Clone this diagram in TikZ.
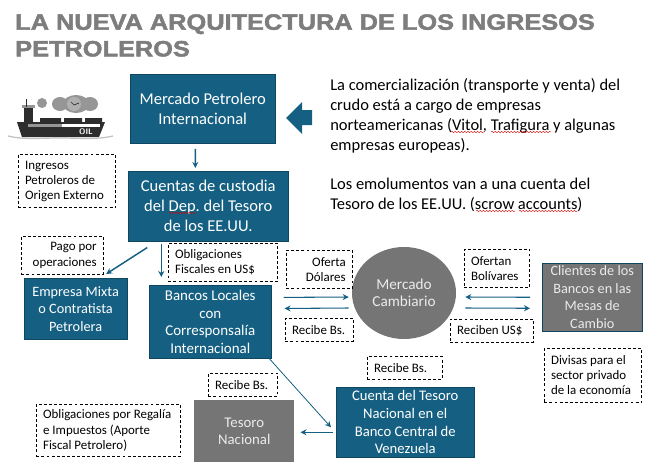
\documentclass[tikz,border=0pt]{standalone}
\usepackage{fontspec}
\setmainfont{Carlito}
\newfontfamily\titlefont[FakeStretch=1.145,FakeBold=2.2]{Liberation Sans Bold}
\usepackage{xcolor}
\usetikzlibrary{arrows.meta,decorations.pathmorphing,shapes.geometric}
\frenchspacing
\definecolor{tileblue}{RGB}{21,96,130}
\definecolor{tileedge}{RGB}{15,71,97}
\definecolor{tilegray}{RGB}{117,117,117}
\definecolor{titlegray}{RGB}{125,125,125}
\definecolor{shipdark}{RGB}{45,45,45}
\definecolor{smokegray}{RGB}{150,150,150}
\tikzset{
	bluebox/.style={draw=tileedge,fill=tileblue,text=white,align=center,font=\fontsize{11}{13.2}\selectfont,anchor=north west,inner sep=0pt},
	bigbox/.style={bluebox,font=\fontsize{12.4}{15}\selectfont},
	graybox/.style={bluebox,fill=tilegray,text=white!92!black},
	notebox/.style={draw=black,dashed,dash pattern=on 2.2pt off 1.6pt,align=flush left,font=\fontsize{9.7}{11.3}\selectfont,anchor=north west,inner xsep=5pt,inner ysep=0pt,line width=0.6pt},
	flow/.style={draw=tileblue,line width=0.8pt,-{Stealth[length=4.5pt,width=4.5pt]}},
	thickflow/.style={flow,line width=1.1pt},
	squiggle/.style={draw=red!85!black,line width=0.3pt,decorate,decoration={snake,amplitude=0.5pt,segment length=2.4pt}}
}
\begin{document}
\begin{tikzpicture}[x=0.75pt,y=-0.75pt]
	\useasboundingbox (0,0) rectangle (648,475);

	\node (titulo) at (15,14) [anchor=north west,inner sep=0pt,align=left,text=titlegray,font=\titlefont\fontsize{16.6}{20}\selectfont] {LA NUEVA ARQUITECTURA DE LOS INGRESOS\\PETROLEROS};

	\node (mercado) at (130,74) [bigbox,minimum width=108.75pt,minimum height=52pt] {Mercado Petrolero\\Internacional};
	\node (cuentas) at (128,171) [bigbox,minimum width=120pt,minimum height=52.5pt] {Cuentas de custodia\\del Dep. del Tesoro\\de los EE.UU.};
	\node (empresa) at (24,278) [bluebox,font=\fontsize{10.7}{13.1}\selectfont,minimum width=77pt,minimum height=46pt] {Empresa Mixta\\o Contratista\\Petrolera};
	\node (bancos) at (149,285) [bluebox,font=\fontsize{11.2}{13.2}\selectfont,minimum width=91.5pt,minimum height=55pt] {Bancos Locales\\con\\Corresponsalía\\Internacional};
	\node (cuentabcv) at (336,387) [bluebox,minimum width=103.5pt,minimum height=52.5pt] {Cuenta del Tesoro\\Nacional en el\\Banco Central de\\Venezuela};
	\node (tesoro) at (194,400) [graybox,draw=none,font=\fontsize{11.1}{12.6}\selectfont,minimum width=75pt,minimum height=46pt] {Tesoro\\Nacional};
	\node (clientes) at (542,263) [graybox,font=\fontsize{10.7}{13.2}\selectfont,minimum width=75pt,minimum height=51pt] {Clientes de los\\Bancos en las\\Mesas de\\Cambio};
	\node (cambiario) at (404,293) [ellipse,fill=tilegray,text=white!92!black,align=center,font=\fontsize{11.4}{12.7}\selectfont,minimum width=78pt,minimum height=69pt,inner sep=0pt] {Mercado\\Cambiario};

	\node (ingresos) at (18,154) [notebox,text width=62.75pt,minimum height=40pt] {Ingresos\\Petroleros de\\Origen Externo};
	\node (pago) at (21,236) [notebox,align=flush right,text width=51.5pt,minimum height=28.5pt] {Pago por\\operaciones};
	\node (fiscales) at (168,243) [notebox,text width=72pt,minimum height=28.5pt] {Obligaciones\\Fiscales en US\$};
	\node (oferta) at (286,250) [notebox,align=flush right,text width=39.5pt,minimum height=28.5pt] {Oferta\\Dólares};
	\node (recibeuno) at (285,318) [notebox,text width=41pt,minimum height=17pt] {Recibe Bs.};
	\node (ofertan) at (464,249) [notebox,text width=39pt,minimum height=28.5pt] {Ofertan\\Bolívares};
	\node (reciben) at (450,319) [notebox,text width=52.5pt,minimum height=17pt] {Reciben US\$};
	\node (divisas) at (544,348) [notebox,text width=63pt,minimum height=40.5pt] {Divisas para el\\sector privado\\de la economía};
	\node (recibedos) at (367,356) [notebox,text width=46pt,minimum height=17pt] {Recibe Bs.};
	\node (recibetres) at (208,373) [notebox,text width=42pt,minimum height=17pt] {Recibe Bs.};
	\node (regalia) at (36,404) [notebox,text width=98pt,minimum height=39pt] {Obligaciones por Regalía\\e Impuestos (Aporte\\Fiscal Petrolero)};

	\node (texto) at (330,78) [anchor=north west,inner sep=0pt,align=left,font=\fontsize{12.35}{15}\selectfont] {La comercialización (transporte y venta) del\\crudo está a cargo de empresas\\norteamericanas (Vitol, Trafigura y algunas\\empresas europeas).\\[14.5pt]Los emolumentos van a una cuenta del\\Tesoro de los EE.UU. (scrow accounts)};

	\draw[squiggle] (451,132) -- (484,132);
	\draw[squiggle] (491,132) -- (551,132);
	\draw[squiggle] (476,211) -- (515,211);
	\draw[squiggle] (519,211) -- (578,211);
	\draw[squiggle] (169,213) -- (196,213);

	\fill[tileblue] (286,118) -- (302,102) -- (302,110) -- (312,110) -- (312,125) -- (302,125) -- (302,134) -- cycle;

	\draw[thickflow] ([xshift=-5.6pt,yshift=-3.75pt]mercado.south) -- ([xshift=-9.75pt,yshift=2.25pt]cuentas.north);
	\draw[thickflow] ([xshift=-45.75pt,yshift=-4.5pt]cuentas.south) -- ([xshift=22.9pt,yshift=3pt]empresa.north);
	\draw[thickflow] ([xshift=-35.25pt,yshift=-1.5pt]cuentas.south) -- ([xshift=-36.75pt,yshift=6pt]bancos.north);

	\draw[flow] ([xshift=9pt,yshift=18.4pt]bancos.east) -- ([xshift=-2.25pt,yshift=-3pt]cambiario.west);
	\draw[flow] ([xshift=-2.25pt,yshift=-11.25pt]cambiario.west) -- ([xshift=9.75pt,yshift=10.1pt]bancos.east);
	\draw[flow] ([xshift=-9pt]clientes.west) -- ([xshift=6.75pt,yshift=-3pt]cambiario.east);
	\draw[flow] ([xshift=6.75pt,yshift=-11.25pt]cambiario.east) -- ([xshift=-9pt,yshift=-8.25pt]clientes.west);
	\draw[flow,line width=0.6pt] ([xshift=-1.5pt]bancos.south east) -- ([xshift=-3.75pt,yshift=-3.75pt]cuentabcv.west);
	\draw[flow] ([xshift=-2.25pt,yshift=-7.5pt]cuentabcv.west) -- ([xshift=4.5pt,yshift=-1pt]tesoro.east);

	\fill[smokegray] (42,103) circle (5) (60,104) ellipse (8 and 7) (76,104) ellipse (13 and 9) (90,104) ellipse (8 and 7);
	\fill[smokegray!75] (74,104) circle (7);
	\draw[shipdark,line width=0.5pt] (71,102) -- (74,105) -- (79,103);
	\fill[smokegray] (22,105) rectangle (35,108);
	\fill[shipdark] (24,108) rectangle (33,122);
	\draw[shipdark,line width=0.7pt] (26,107) -- (26,99);
	\fill[shipdark] (40,118) rectangle (61,122) (64,118) rectangle (82,122) (85,118) rectangle (102,122);
	\fill[shipdark] (17,122) -- (105,122) -- (99,137) -- (22,137) -- cycle;
	\fill[white] (62,124) rectangle (100,127);
	\fill[smokegray] (28,124) rectangle (62,127);
	\node (oil) at (86,132) [text=white,font=\sffamily\bfseries\fontsize{6}{6}\selectfont,inner sep=0pt] {OIL};
	\draw[smokegray!60,line width=0.9pt] (8,136) .. controls (25,140) and (40,138) .. (60,138) .. controls (80,138) and (95,140) .. (113,136);
\end{tikzpicture}
\end{document}
